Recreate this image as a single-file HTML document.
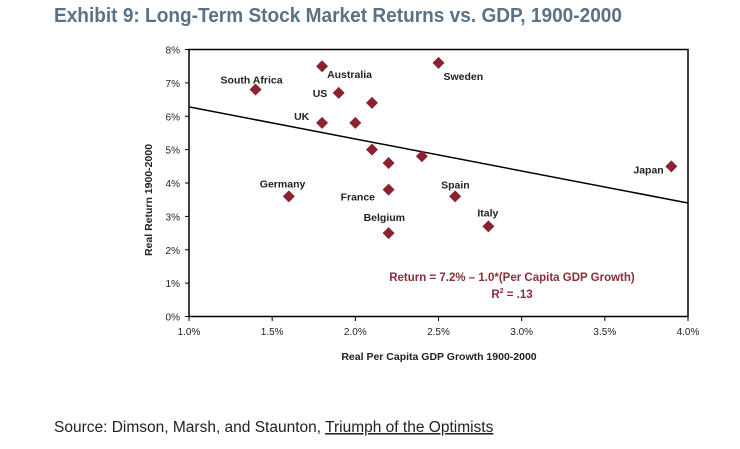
<!DOCTYPE html>
<html><head><meta charset="utf-8"><style>
body{margin:0;background:#fff;width:740px;height:449px;overflow:hidden}
svg{display:block;font-family:"Liberation Sans",sans-serif}
</style></head><body>
<svg id="chart" width="740" height="449" viewBox="0 0 740 449">
<text x="54" y="22" font-size="20" font-weight="bold" fill="#5b7185" textLength="568" lengthAdjust="spacingAndGlyphs">Exhibit 9: Long-Term Stock Market Returns vs. GDP, 1900-2000</text>
<rect x="189" y="49.5" width="499" height="267" fill="none" stroke="#000" stroke-width="1.5"/>
<g id="yticks"></g><g id="xticks"></g><g id="trend"></g><g id="points"></g>
<text transform="translate(152,200) rotate(-90)" text-anchor="middle" font-size="10.5" font-weight="bold" fill="#222">Real Return 1900-2000</text>
<text x="439" y="360" text-anchor="middle" font-size="10.5" font-weight="bold" fill="#222">Real Per Capita GDP Growth 1900-2000</text>
<text x="512" y="281" text-anchor="middle" font-size="11.5" font-weight="bold" fill="#8b2e3c">Return = 7.2% – 1.0*(Per Capita GDP Growth)</text>
<text x="512" y="298" text-anchor="middle" font-size="11.5" font-weight="bold" fill="#8b2e3c">R<tspan font-size="7" dy="-5">2</tspan><tspan dy="5"> = .13</tspan></text>
<text x="54" y="432" font-size="15.5" fill="#222">Source:  Dimson, Marsh, and Staunton, <tspan text-decoration="underline">Triumph of the Optimists</tspan></text>
</svg>
<script>
const xTicks=[1.0,1.5,2.0,2.5,3.0,3.5,4.0];
const yTicks=[0,1,2,3,4,5,6,7,8];
const countries=["South Africa","Australia","Sweden","US","","UK","","","","","Japan","Germany","France","Spain","Belgium","Italy"];
const gdpGrowth=[1.4,1.8,2.5,1.9,2.1,1.8,2.0,2.1,2.2,2.4,3.9,1.6,2.2,2.6,2.2,2.8];
const realReturn=[6.8,7.5,7.6,6.7,6.4,5.8,5.8,5.0,4.6,4.8,4.5,3.6,3.8,3.6,2.5,2.7];
const trendX=[1.0,4.0];
const trendY=[6.28,3.4];
const labelOffsets={"South Africa":[-35,-6,"start"],"Australia":[5,12,"start"],"Sweden":[5,17,"start"],"US":[-26,4,"start"],"UK":[-28,-3,"start"],"Japan":[-38,7,"start"],"Germany":[-29,-9,"start"],"France":[-48,11,"start"],"Spain":[-14,-8,"start"],"Belgium":[-25,-12,"start"],"Italy":[-11,-10,"start"]};
const NS="http://www.w3.org/2000/svg";
const X=v=>189+(v-1)/3*499;
const Y=v=>316.5-v/8*267;
function mk(t,a,p){const e=document.createElementNS(NS,t);for(const k in a)e.setAttribute(k,a[k]);p.appendChild(e);return e;}
const yg=document.getElementById('yticks');
yTicks.forEach(v=>{
 const l=mk('line',{x1:185,x2:189,y1:Y(v),y2:Y(v),stroke:'#000'},yg);
 
 
 const t=mk('text',{x:180,y:Y(v)+4,'text-anchor':'end','font-size':10,fill:'#222'},yg);
 
 
 t.textContent=v+'%';
});
const xg=document.getElementById('xticks');
xTicks.forEach(v=>{
 const l=mk('line',{x1:X(v),x2:X(v),y1:316.5,y2:321,stroke:'#000'},xg);
 
 
 const t=mk('text',{x:X(v),y:335,'text-anchor':'middle','font-size':10,fill:'#222'},xg);
 
 
 t.textContent=v.toFixed(1)+'%';
});
const tl=mk('line',{x1:X(trendX[0]),y1:Y(trendY[0]),x2:X(trendX[1]),y2:Y(trendY[1]),stroke:'#000','stroke-width':1.5},document.getElementById('trend'));


const pg=document.getElementById('points');
gdpGrowth.forEach((g,i)=>{
 const cx=X(g),cy=Y(realReturn[i]);
 const p=mk('polygon',{points:`${cx},${cy-6} ${cx+6},${cy} ${cx},${cy+6} ${cx-6},${cy}`,fill:'#8b2232'},pg);
 
 
 const c=countries[i];
 if(c){
  const o=labelOffsets[c];
  const t=mk('text',{x:cx+o[0],y:cy+o[1],'text-anchor':o[2],'font-size':10.5,'font-weight':'bold',fill:'#222'},pg);
  
  
  t.textContent=c;
 }
});
</script>
</body></html>
